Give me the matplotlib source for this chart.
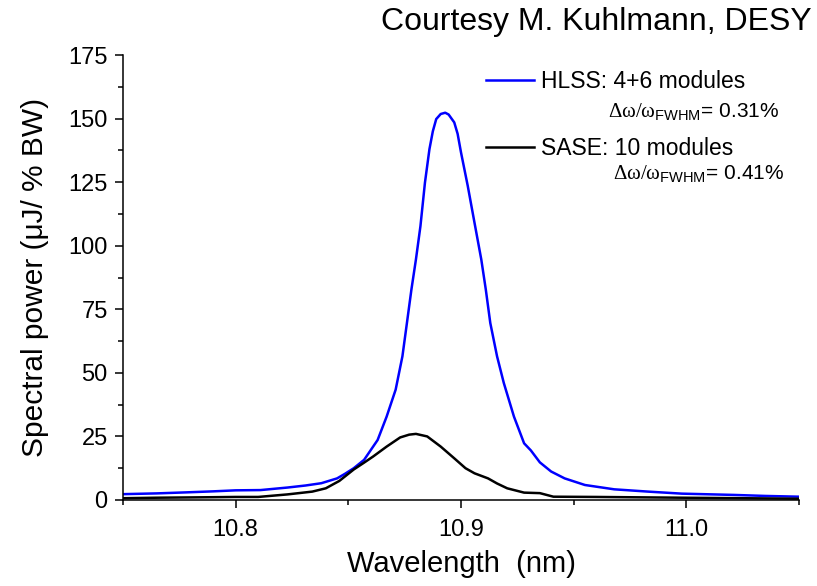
import matplotlib
matplotlib.use("Agg")
import matplotlib.pyplot as plt
from matplotlib.ticker import MultipleLocator, FormatStrFormatter

plt.rcParams['font.family'] = ['Liberation Sans', 'DejaVu Sans']
plt.rcParams['mathtext.fontset'] = 'custom'
plt.rcParams['mathtext.rm'] = 'Liberation Serif'
plt.rcParams['mathtext.it'] = 'Liberation Serif'
plt.rcParams['mathtext.sf'] = 'Liberation Sans'

# HLSS: 4+6 modules (blue)
hlss_wl = [10.750, 10.765, 10.778, 10.790, 10.800, 10.811, 10.823, 10.831, 10.838,
           10.845, 10.8485, 10.8524, 10.857, 10.863, 10.867, 10.871, 10.874, 10.876,
           10.878, 10.880, 10.882, 10.884, 10.886, 10.8875, 10.889, 10.891, 10.893,
           10.8945, 10.897, 10.8985, 10.900,
           10.903, 10.906, 10.909, 10.911, 10.913, 10.916, 10.919, 10.9235, 10.928,
           10.931, 10.935, 10.940, 10.946, 10.955, 10.968, 10.983, 10.998, 11.021,
           11.035, 11.050]
hlss_pw = [2.3, 2.6, 3.0, 3.4, 3.8, 3.9, 4.9, 5.7, 6.6,
           8.5, 10.3, 12.5, 15.8, 23.6, 32.8, 43.4, 56.5, 69.6,
           82.8, 94.6, 107.7, 124.8, 138.0, 145.0, 149.8, 151.8, 152.3,
           151.6, 148.5, 144.0, 136.7,
           123.5, 109.0, 94.6, 82.8, 69.6, 56.5, 46.0, 32.8, 22.3,
           19.5, 14.8, 11.2, 8.5, 5.9, 4.2, 3.3, 2.5, 2.0,
           1.6, 1.3]

# SASE: 10 modules (black)
sase_wl = [10.750, 10.765, 10.778, 10.790, 10.800, 10.810, 10.823, 10.834, 10.840,
           10.846, 10.8524, 10.857, 10.861, 10.867, 10.873, 10.877, 10.880, 10.885,
           10.891, 10.897, 10.902, 10.906, 10.912, 10.916, 10.9205, 10.928, 10.935,
           10.941, 10.960, 10.998, 11.025, 11.050]
sase_pw = [0.7, 0.9, 1.0, 1.1, 1.2, 1.2, 2.2, 3.3, 4.6,
           7.5, 12.0, 14.7, 17.1, 21.0, 24.6, 25.7, 26.0, 25.0,
           21.0, 16.4, 12.5, 10.5, 8.5, 6.5, 4.6, 2.9, 2.7,
           1.3, 1.2, 0.9, 0.7, 0.5]

labels = ["HLSS: 4+6 modules", "SASE: 10 modules"]
bandwidths = ["0.31%", "0.41%"]

fig = plt.figure(figsize=(8.17, 5.86), dpi=100)
ax = fig.add_axes([123/817, 1-500/586, (799-123)/817, (500-55)/586])

l1, = ax.plot(hlss_wl, hlss_pw, color='#0000ff', lw=1.8, label=labels[0])
l2, = ax.plot(sase_wl, sase_pw, color='black', lw=1.8, label=labels[1])

ax.set_xlim(10.75, 11.05)
ax.set_ylim(0, 175)
ax.xaxis.set_major_locator(MultipleLocator(0.1))
ax.xaxis.set_minor_locator(MultipleLocator(0.05))
ax.xaxis.set_major_formatter(FormatStrFormatter('%.1f'))
ax.yaxis.set_major_locator(MultipleLocator(25))
ax.yaxis.set_minor_locator(MultipleLocator(12.5))

for s in ['top', 'right']:
    ax.spines[s].set_visible(False)
for s in ['left', 'bottom']:
    ax.spines[s].set_linewidth(1.1)

ax.tick_params(which='major', direction='out', length=6, width=1.1, labelsize=17, pad=5)
ax.tick_params(which='minor', direction='out', length=3.6, width=1.1)
ax.tick_params(axis='x', which='major', pad=8)

ax.set_xlabel("Wavelength  (nm)", fontsize=21, labelpad=6)
ax.set_ylabel("Spectral power (\u03bcJ/ % BW)", fontsize=21.5, labelpad=14)

leg = ax.legend(handles=[l1, l2], loc='upper left',
                bbox_to_anchor=(486/817, 1-70/586), bbox_transform=fig.transFigure,
                frameon=False, fontsize=16.5, handlelength=2.1, handletextpad=0.3,
                labelspacing=1.9, borderpad=0, borderaxespad=0)

fig.text(608/817, 1-112/586, r'$\Delta\omega/\omega_{\mathsf{FWHM}}$= ' + bandwidths[0],
         fontsize=15, va='center', ha='left')
fig.text(613/817, 1-174/586, r'$\Delta\omega/\omega_{\mathsf{FWHM}}$= ' + bandwidths[1],
         fontsize=15, va='center', ha='left')

fig.text(812/817, 1-22/586, "Courtesy M. Kuhlmann, DESY", fontsize=23,
         ha='right', va='center')

fig.savefig("out.png", dpi=100)
